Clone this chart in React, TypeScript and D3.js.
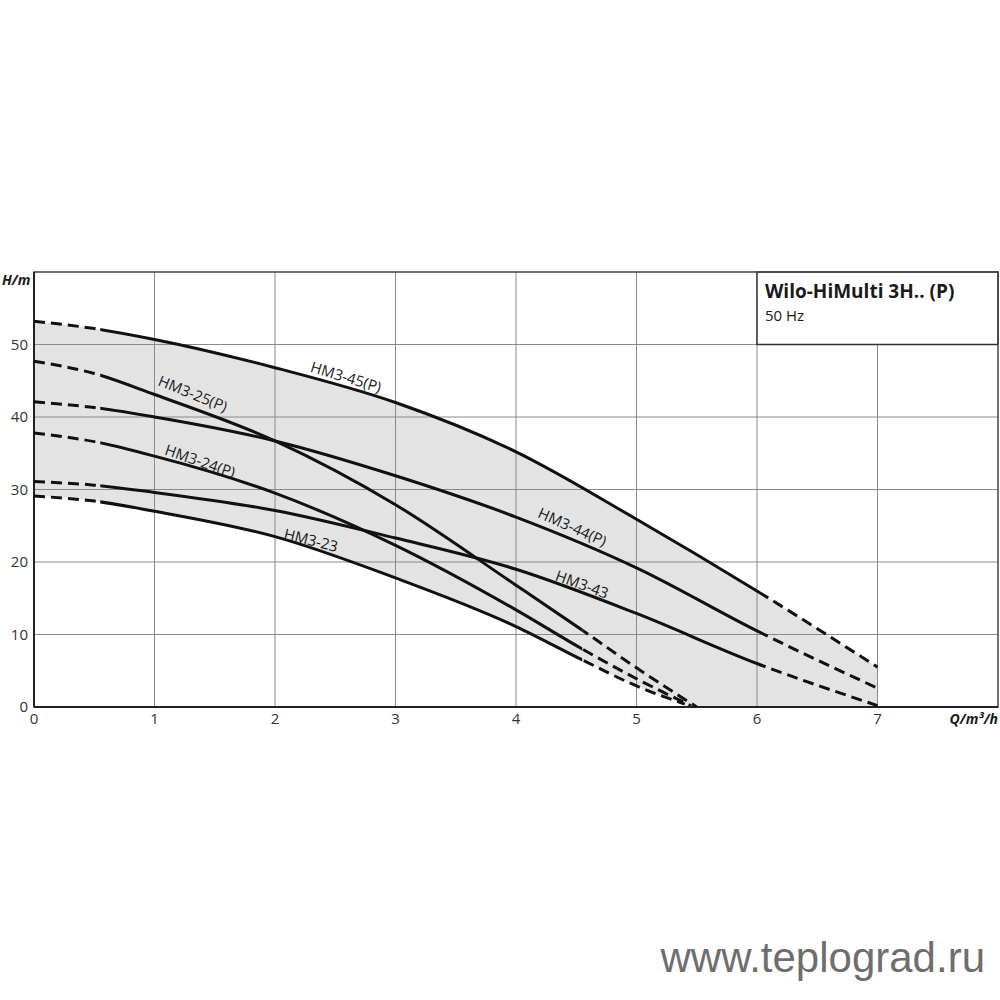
import React from "react";
import * as d3 from "d3";

// ---- data ----
const qTicks = [0, 1, 2, 3, 4, 5, 6, 7];
const hTicks = [0, 10, 20, 30, 40, 50];

const curveNames = ["HM3-45(P)", "HM3-44(P)", "HM3-43", "HM3-25(P)", "HM3-24(P)", "HM3-23"];

const q45 = [0, 0.5, 1, 2, 3, 4, 5, 6, 7];
const h45 = [53.2, 52.2, 50.7, 46.8, 42.0, 35.2, 25.9, 16.0, 5.5];
const q44 = [0, 0.5, 1, 2, 3, 4, 5, 6, 7];
const h44 = [42.1, 41.3, 40.0, 36.7, 31.9, 26.2, 19.2, 10.5, 2.6];
const q43 = [0, 0.5, 1, 2, 3, 4, 5, 6, 7];
const h43 = [31.1, 30.6, 29.6, 27.1, 23.3, 19.0, 12.9, 6.0, 0.2];
const q25 = [0, 0.5, 1, 2, 3, 4, 4.55, 5, 5.5];
const h25 = [47.7, 46.0, 43.1, 36.7, 27.9, 16.8, 10.6, 5.4, 0];
const q24 = [0, 0.5, 1, 2, 3, 4, 4.55, 5, 5.45];
const h24 = [37.8, 36.6, 34.6, 29.5, 22.3, 13.4, 8.0, 3.9, 0.2];
const q23 = [0, 0.5, 1, 2, 3, 4, 4.55, 5, 5.4];
const h23 = [29.1, 28.4, 27.0, 23.5, 17.8, 11.1, 6.5, 2.9, 0.4];

// solid section of each curve (Q range), outside is dashed
const solidFrom = [0.55, 0.55, 0.55, 0.55, 0.55, 0.55];
const solidTo = [6.05, 6.05, 6.05, 4.55, 4.55, 4.55];

// curve label placement (Q, H of label centre, rotation deg)
const labelQ = [2.59, 4.47, 4.55, 1.32, 1.38, 2.3];
const labelH = [45.6, 24.9, 17.0, 43.3, 34.0, 23.1];
const labelAngle = [17, 24, 20, 22, 19, 14];

const titleText = "Wilo-HiMulti 3H.. (P)";
const subtitleText = "50 Hz";
const yAxisTitle = "H/m";
const xAxisTitle = "Q/m³/h";
const watermark = "www.teplograd.ru";

export default function App() {
  const W = 1000;
  const H = 1000;
  const left = 34;
  const right = 998;
  const top = 272;
  const bottom = 707;

  const x = d3.scaleLinear().domain([0, 8]).range([left, right]);
  const y = d3.scaleLinear().domain([0, 60]).range([bottom, top]);

  const qs = [q45, q44, q43, q25, q24, q23];
  const hs = [h45, h44, h43, h25, h24, h23];
  const curves = curveNames.map((name, i) => ({
    name,
    pts: qs[i].map((q, j) => [q, hs[i][j]] as [number, number]),
    from: solidFrom[i],
    to: solidTo[i],
  }));

  const line = d3
    .line<[number, number]>()
    .x((d) => x(d[0]))
    .y((d) => y(d[1]))
    .curve(d3.curveMonotoneX);

  const area = d3
    .area<[number, number]>()
    .x((d) => x(d[0]))
    .y0(y(0))
    .y1((d) => y(d[1]))
    .curve(d3.curveMonotoneX);

  const font = "'Open Sans', 'Noto Sans', sans-serif";
  const gridColor = "#8a8a8a";

  return (
    <svg
      width={W}
      height={H}
      style={{ position: "absolute", left: 0, top: 0, background: "#fff" }}
      fontFamily={font}
    >
      <defs>
        {curves.map((c, i) => (
          <React.Fragment key={i}>
            <clipPath id={`solid${i}`}>
              <rect x={x(c.from)} y={0} width={x(c.to) - x(c.from)} height={H} />
            </clipPath>
            <clipPath id={`dashL${i}`}>
              <rect x={0} y={0} width={x(c.from)} height={H} />
            </clipPath>
            <clipPath id={`dashR${i}`}>
              <rect x={x(c.to)} y={0} width={W - x(c.to)} height={H} />
            </clipPath>
          </React.Fragment>
        ))}
      </defs>

      <rect x={0} y={0} width={W} height={H} fill="#fff" />

      {/* shaded operating range: under top curve, minus under bottom curve */}
      <path d={area(curves[0].pts) as string} fill="#e3e3e3" stroke="none" />
      <path d={area(curves[5].pts) as string} fill="#fff" stroke="#fff" strokeWidth={0.5} />

      {/* grid */}
      {hTicks
        .filter((h) => h > 0)
        .map((h) => (
          <line key={`h${h}`} x1={x(0)} x2={x(8)} y1={y(h)} y2={y(h)} stroke={gridColor} strokeWidth={1} />
        ))}
      {qTicks
        .filter((q) => q > 0)
        .map((q) => (
          <line
            key={`v${q}`}
            x1={x(q)}
            x2={x(q)}
            y1={y(q === 7 ? 50 : 60)}
            y2={y(0)}
            stroke={gridColor}
            strokeWidth={1}
          />
        ))}

      {/* legend box */}
      <rect x={x(6)} y={y(60)} width={x(8) - x(6)} height={y(50) - y(60)} fill="#fff" stroke="#333" strokeWidth={1.5} />
      <text x={765} y={298} fontSize={19} fontWeight="bold" fill="#1a1a1a">
        {titleText}
      </text>
      <text x={765} y={321} fontSize={15} fill="#1a1a1a">
        {subtitleText}
      </text>

      {/* frame */}
      <rect x={left} y={top} width={right - left} height={bottom - top} fill="none" stroke="#444" strokeWidth={1.5} />
      <line x1={left} x2={left} y1={top} y2={bottom} stroke="#222" strokeWidth={2} />
      <line x1={left} x2={right} y1={bottom} y2={bottom} stroke="#222" strokeWidth={2} />

      {/* curves */}
      {curves.map((c, i) => {
        const d = line(c.pts) as string;
        return (
          <g key={c.name}>
            <path d={d} fill="none" stroke="#111" strokeWidth={3} clipPath={`url(#solid${i})`} />
            <path
              d={d}
              fill="none"
              stroke="#111"
              strokeWidth={3}
              strokeDasharray="11 6"
              clipPath={`url(#dashL${i})`}
            />
            <path
              d={d}
              fill="none"
              stroke="#111"
              strokeWidth={3}
              strokeDasharray="11 6"
              clipPath={`url(#dashR${i})`}
            />
          </g>
        );
      })}

      {/* curve labels */}
      {curveNames.map((n, i) => (
        <text
          key={`l${n}`}
          transform={`translate(${x(labelQ[i])},${y(labelH[i])}) rotate(${labelAngle[i]})`}
          textAnchor="middle"
          dominantBaseline="central"
          fontSize={15}
          fill="#1a1a1a"
        >
          {n}
        </text>
      ))}

      {/* tick labels */}
      {hTicks.map((h) => (
        <text key={`yt${h}`} x={28} y={y(h)} dy="0.35em" textAnchor="end" fontSize={15} fill="#333">
          {h}
        </text>
      ))}
      {qTicks.map((q) => (
        <text key={`xt${q}`} x={x(q)} y={724} textAnchor="middle" fontSize={15} fill="#333">
          {q}
        </text>
      ))}
      <text x={2} y={285} fontSize={14} fontWeight="bold" fontStyle="italic" fill="#1a1a1a">
        {yAxisTitle}
      </text>
      <text x={998} y={724} textAnchor="end" fontSize={14} fontWeight="bold" fontStyle="italic" fill="#1a1a1a">
        {xAxisTitle}
      </text>

      {/* watermark */}
      <text x={985} y={972} textAnchor="end" fontSize={42} fill="#6e6e6e" fontFamily="'Liberation Sans', Arial, sans-serif">
        {watermark}
      </text>
    </svg>
  );
}
